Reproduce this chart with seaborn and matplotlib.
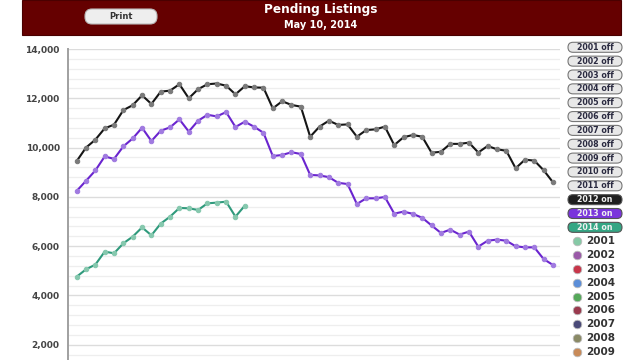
import numpy as np
import pandas as pd
import seaborn as sns
import matplotlib.pyplot as plt
from matplotlib.patches import FancyBboxPatch, Rectangle
from matplotlib.ticker import FuncFormatter, MultipleLocator, FixedLocator

# weekly pending listings
pending_2012 = [9450, 10000, 10320, 10780, 10930, 11520, 11720, 12120, 11770, 12270,
                12310, 12570, 12000, 12370, 12570, 12600, 12510, 12160, 12490, 12440,
                12430, 11590, 11880, 11730, 11660, 10440, 10850, 11090, 10920, 10940,
                10440, 10710, 10740, 10850, 10100, 10420, 10510, 10440, 9790, 9830,
                10150, 10150, 10200, 9800, 10065, 9930, 9870, 9160, 9510, 9470,
                9080, 8590]
pending_2013 = [8240, 8650, 9070, 9640, 9540, 10050, 10370, 10805, 10265, 10685,
                10820, 11145, 10650, 11090, 11330, 11265, 11440, 10835, 11050, 10845,
                10600, 9655, 9700, 9810, 9740, 8890, 8870, 8800, 8570, 8520,
                7710, 7940, 7940, 7995, 7320, 7400, 7310, 7150, 6840, 6535,
                6670, 6470, 6590, 5980, 6220, 6265, 6220, 5995, 5950, 5950,
                5475, 5235]
pending_2014 = [4760, 5060, 5250, 5777, 5710, 6116, 6386, 6760, 6440, 6915,
                7197, 7550, 7535, 7468, 7738, 7765, 7805, 7197, 7643]

y_ticks = [2000, 4000, 6000, 8000, 10000, 12000, 14000]

off_years = ['2001', '2002', '2003', '2004', '2005', '2006', '2007', '2008', '2009', '2010', '2011']
on_years = ['2012', '2013', '2014']
legend_years = ['2001', '2002', '2003', '2004', '2005', '2006', '2007', '2008', '2009']
legend_colors = ['#86c9a6', '#9a5aa8', '#c8364a', '#5b8ed8', '#55a85a', '#9a3a4e', '#4a4a78', '#8a8a66', '#c88a58']

series = {'2012': (pending_2012, '#151515', '#7a7a7a'),
          '2013': (pending_2013, '#6a24cf', '#a07ae0'),
          '2014': (pending_2014, '#2f9a7c', '#86c8ae')}
on_colors = ['#1e1e1e', '#7a34dc', '#34a684']

sns.set_style('white')
plt.rcParams['font.family'] = ['DejaVu Sans']

fig = plt.figure(figsize=(6.4, 3.6), dpi=100)
fig.patch.set_facecolor('white')

# main plot area (bottom runs past the lower edge of the picture)
ax = fig.add_axes([68 / 640, -34 / 360, 492 / 640, 345 / 360])
for year, (vals, lc, mc) in series.items():
    df = pd.DataFrame({'week': np.arange(1, len(vals) + 1), 'pending': vals})
    sns.lineplot(data=df, x='week', y='pending', ax=ax, color=lc, linewidth=1.5,
                 marker='o', markersize=3.2, markerfacecolor=mc, markeredgecolor=mc,
                 zorder=3)

ax.set_xlim(0.07, 52.75)
ax.set_ylim(0, 14000)
ax.yaxis.set_major_locator(FixedLocator(y_ticks))
ax.yaxis.set_minor_locator(MultipleLocator(400))
ax.yaxis.set_major_formatter(FuncFormatter(lambda v, p: f'{int(v):,}'))
ax.grid(which='minor', axis='y', color='#eeeeee', linewidth=0.9)
ax.grid(which='major', axis='y', color='#dcdcdc', linewidth=1.0)
ax.set_xticks([])
ax.set_xlabel('')
ax.set_ylabel('')
ax.tick_params(axis='y', which='both', length=0, pad=6, labelsize=6.5, labelcolor='#444444')
for lab in ax.get_yticklabels():
    lab.set_fontweight('bold')
for s in ['top', 'right', 'bottom']:
    ax.spines[s].set_visible(False)
ax.spines['left'].set_color('#a0a0a0')
ax.spines['left'].set_linewidth(1.4)

# overlay in pixel coordinates for header and legend buttons
ov = fig.add_axes([0, 0, 1, 1])
ov.set_xlim(0, 640)
ov.set_ylim(360, 0)
ov.axis('off')
ov.patch.set_alpha(0)

ov.add_patch(Rectangle((22, 0), 599, 35, facecolor='#650000', edgecolor='#4a0000', lw=0.8))
ov.text(321, 9, 'Pending Listings', color='white', fontsize=8.7, fontweight='bold',
        ha='center', va='center')
ov.text(321, 25, 'May 10, 2014', color='white', fontsize=7, fontweight='bold',
        ha='center', va='center')
ov.add_patch(FancyBboxPatch((85, 9), 72, 15, boxstyle='round,pad=0,rounding_size=7',
                            facecolor='#eeeeee', edgecolor='#bbbbbb', lw=0.8))
ov.text(121, 16.5, 'Print', color='#333333', fontsize=6, fontweight='bold',
        ha='center', va='center')

step = 13.85
y0 = 47.3
for i, yr in enumerate(off_years):
    yc = y0 + step * i
    ov.add_patch(FancyBboxPatch((568, yc - 5), 54, 10, boxstyle='round,pad=0,rounding_size=5',
                                facecolor='#e8e8e8', edgecolor='#777777', lw=0.8))
    ov.text(595, yc, f'{yr} off', color='#2a2a40', fontsize=5.7, fontweight='bold',
            ha='center', va='center')

for j, yr in enumerate(on_years):
    yc = y0 + step * (len(off_years) + j)
    ov.add_patch(FancyBboxPatch((568, yc - 5), 54, 10, boxstyle='round,pad=0,rounding_size=5',
                                facecolor=on_colors[j], edgecolor='#555555', lw=0.8))
    ov.text(595, yc, f'{yr} on', color='#f0f0f0', fontsize=5.7, fontweight='bold',
            ha='center', va='center')

for k, yr in enumerate(legend_years):
    yc = y0 + step * (len(off_years) + len(on_years) + k)
    ov.scatter([576.7], [yc], s=38, color=legend_colors[k], edgecolor='#bbbbbb',
               linewidth=0.6, zorder=3)
    ov.text(586, yc, yr, color='#333333', fontsize=7.5, fontweight='bold',
            ha='left', va='center')

fig.savefig('out.png', dpi=100)
